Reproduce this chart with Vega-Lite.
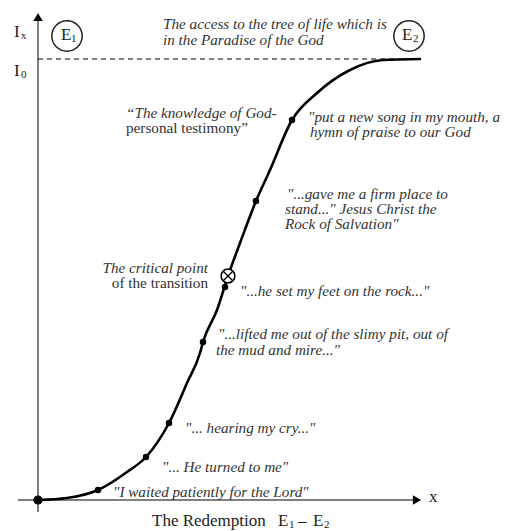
{
  "$schema": "https://vega.github.io/schema/vega-lite/v6.json",
  "width": 505,
  "height": 531,
  "autosize": {"type": "fit", "contains": "padding"},
  "padding": 0,
  "background": "white",
  "config": {"view": {"stroke": null}},
  "datasets": {
    "axes": [
      {"x": -20, "y": 0, "x2": 378, "y2": 0},
      {"x": 0, "y": -12, "x2": 0, "y2": 482}
    ],
    "arrows": [
      {"x": 379, "y": 0, "dir": "right"},
      {"x": 0, "y": 483, "dir": "up"}
    ],
    "level": [{"x": 0, "x2": 383, "y": 441}],
    "curve": [
      {"x": 0, "y": 0}, {"x": 29, "y": 2}, {"x": 60, "y": 10}, {"x": 89, "y": 28},
      {"x": 108, "y": 43}, {"x": 131, "y": 77}, {"x": 149, "y": 117}, {"x": 162, "y": 147},
      {"x": 165, "y": 158}, {"x": 179, "y": 190}, {"x": 190, "y": 224}, {"x": 202, "y": 257},
      {"x": 218, "y": 299}, {"x": 232, "y": 330}, {"x": 254, "y": 380}, {"x": 279, "y": 407},
      {"x": 312, "y": 430}, {"x": 345, "y": 440}, {"x": 383, "y": 441}
    ],
    "dots": [
      {"x": 60, "y": 10}, {"x": 108, "y": 43}, {"x": 131, "y": 77}, {"x": 165, "y": 158},
      {"x": 187, "y": 213}, {"x": 218, "y": 299}, {"x": 254, "y": 380}
    ],
    "origin": [{"x": 0, "y": 0}],
    "states": [{"x": 29, "y": 464}, {"x": 371, "y": 464}],
    "critical": [{"x": 190, "y": 224}],
    "italicLeft": [
      {"t": "The access to the tree of life which is", "x": 125, "y": 476},
      {"t": "in the Paradise of the God", "x": 125, "y": 460},
      {"t": "“The knowledge of God-", "x": 88, "y": 387},
      {"t": "\"put a new song in my mouth, a", "x": 270, "y": 383},
      {"t": "hymn of praise to our God", "x": 272, "y": 368},
      {"t": "\"...gave me a firm place to", "x": 249, "y": 306},
      {"t": "stand...\" Jesus Christ the", "x": 247, "y": 291},
      {"t": "Rock of Salvation\"", "x": 247, "y": 276},
      {"t": "\"...he set my feet on the rock...\"", "x": 202, "y": 209},
      {"t": "\"...lifted me out of the slimy pit, out of", "x": 180, "y": 166},
      {"t": "the mud and mire...\"", "x": 178, "y": 150},
      {"t": "\"... hearing my cry...\"", "x": 147, "y": 72},
      {"t": "\"... He turned to me\"", "x": 124, "y": 33},
      {"t": "\"I waited patiently for the Lord\"", "x": 75, "y": 8}
    ],
    "italicRight": [{"t": "The critical point", "x": 170, "y": 232}],
    "plainLeft": [{"t": "personal testimony”", "x": 88, "y": 372}],
    "plainRight": [{"t": "of the transition", "x": 170, "y": 217}],
    "symbols": [
      {"t": "I", "x": -24, "y": 468},
      {"t": "I", "x": -24, "y": 429},
      {"t": "E", "x": 23, "y": 465},
      {"t": "E", "x": 364, "y": 465},
      {"t": "x", "x": 391, "y": 3},
      {"t": "The Redemption", "x": 114, "y": -21},
      {"t": "E", "x": 240, "y": -21},
      {"t": "–", "x": 260, "y": -21},
      {"t": "E", "x": 275, "y": -21}
    ],
    "subscripts": [
      {"t": "x", "x": -17, "y": 464},
      {"t": "0", "x": -17, "y": 425},
      {"t": "1", "x": 33, "y": 461},
      {"t": "2", "x": 375, "y": 461},
      {"t": "1", "x": 251, "y": -25},
      {"t": "2", "x": 286, "y": -25}
    ]
  },
  "layer": [
    {
      "data": {"name": "axes"},
      "mark": {"type": "rule", "stroke": "#555555", "strokeWidth": 1.5},
      "encoding": {
        "x": {"field": "x", "type": "quantitative", "scale": {"domain": [-38, 467], "nice": false, "zero": false}, "axis": null},
        "y": {"field": "y", "type": "quantitative", "scale": {"domain": [-31, 500], "nice": false, "zero": false}, "axis": null},
        "x2": {"field": "x2"},
        "y2": {"field": "y2"}
      }
    },
    {
      "data": {"name": "arrows"},
      "mark": {"type": "point", "filled": true, "color": "black", "size": 90, "opacity": 1},
      "encoding": {
        "x": {"field": "x", "type": "quantitative"},
        "y": {"field": "y", "type": "quantitative"},
        "shape": {"field": "dir", "type": "nominal", "scale": {"domain": ["right", "up"], "range": ["triangle-right", "triangle-up"]}, "legend": null}
      }
    },
    {
      "data": {"name": "level"},
      "mark": {"type": "rule", "stroke": "black", "strokeWidth": 1.2, "strokeDash": [5, 4]},
      "encoding": {
        "x": {"field": "x", "type": "quantitative"},
        "x2": {"field": "x2"},
        "y": {"field": "y", "type": "quantitative"}
      }
    },
    {
      "data": {"name": "curve"},
      "mark": {"type": "line", "color": "black", "strokeWidth": 2.6, "interpolate": "monotone"},
      "encoding": {
        "x": {"field": "x", "type": "quantitative"},
        "y": {"field": "y", "type": "quantitative"},
        "order": {"field": "x", "type": "quantitative"}
      }
    },
    {
      "data": {"name": "dots"},
      "mark": {"type": "point", "filled": true, "color": "black", "size": 42, "opacity": 1},
      "encoding": {
        "x": {"field": "x", "type": "quantitative"},
        "y": {"field": "y", "type": "quantitative"}
      }
    },
    {
      "data": {"name": "origin"},
      "mark": {"type": "point", "filled": true, "color": "black", "size": 85, "opacity": 1},
      "encoding": {
        "x": {"field": "x", "type": "quantitative"},
        "y": {"field": "y", "type": "quantitative"}
      }
    },
    {
      "data": {"name": "states"},
      "mark": {"type": "point", "shape": "circle", "filled": false, "stroke": "#222222", "strokeWidth": 1.5, "size": 920, "opacity": 1},
      "encoding": {
        "x": {"field": "x", "type": "quantitative"},
        "y": {"field": "y", "type": "quantitative"}
      }
    },
    {
      "data": {"name": "critical"},
      "mark": {"type": "point", "shape": "circle", "filled": true, "fill": "white", "stroke": "black", "strokeWidth": 1.5, "size": 190, "opacity": 1},
      "encoding": {
        "x": {"field": "x", "type": "quantitative"},
        "y": {"field": "y", "type": "quantitative"}
      }
    },
    {
      "data": {"name": "critical"},
      "mark": {"type": "point", "shape": "M-0.7,-0.7L0.7,0.7M-0.7,0.7L0.7,-0.7", "filled": false, "stroke": "black", "strokeWidth": 1.3, "size": 150, "opacity": 1},
      "encoding": {
        "x": {"field": "x", "type": "quantitative"},
        "y": {"field": "y", "type": "quantitative"}
      }
    },
    {
      "data": {"name": "italicLeft"},
      "mark": {"type": "text", "align": "left", "baseline": "middle", "font": "Liberation Serif", "fontStyle": "italic", "fontSize": 15.2, "color": "#333333"},
      "encoding": {
        "x": {"field": "x", "type": "quantitative"},
        "y": {"field": "y", "type": "quantitative"},
        "text": {"field": "t"}
      }
    },
    {
      "data": {"name": "italicRight"},
      "mark": {"type": "text", "align": "right", "baseline": "middle", "font": "Liberation Serif", "fontStyle": "italic", "fontSize": 15.2, "color": "#333333"},
      "encoding": {
        "x": {"field": "x", "type": "quantitative"},
        "y": {"field": "y", "type": "quantitative"},
        "text": {"field": "t"}
      }
    },
    {
      "data": {"name": "plainLeft"},
      "mark": {"type": "text", "align": "left", "baseline": "middle", "font": "Liberation Serif", "fontSize": 15.2, "color": "#333333"},
      "encoding": {
        "x": {"field": "x", "type": "quantitative"},
        "y": {"field": "y", "type": "quantitative"},
        "text": {"field": "t"}
      }
    },
    {
      "data": {"name": "plainRight"},
      "mark": {"type": "text", "align": "right", "baseline": "middle", "font": "Liberation Serif", "fontSize": 15.2, "color": "#333333"},
      "encoding": {
        "x": {"field": "x", "type": "quantitative"},
        "y": {"field": "y", "type": "quantitative"},
        "text": {"field": "t"}
      }
    },
    {
      "data": {"name": "symbols"},
      "mark": {"type": "text", "align": "left", "baseline": "middle", "font": "Liberation Serif", "fontSize": 17, "color": "#222222"},
      "encoding": {
        "x": {"field": "x", "type": "quantitative"},
        "y": {"field": "y", "type": "quantitative"},
        "text": {"field": "t"}
      }
    },
    {
      "data": {"name": "subscripts"},
      "mark": {"type": "text", "align": "left", "baseline": "middle", "font": "Liberation Serif", "fontSize": 11, "color": "#222222"},
      "encoding": {
        "x": {"field": "x", "type": "quantitative"},
        "y": {"field": "y", "type": "quantitative"},
        "text": {"field": "t"}
      }
    }
  ]
}
